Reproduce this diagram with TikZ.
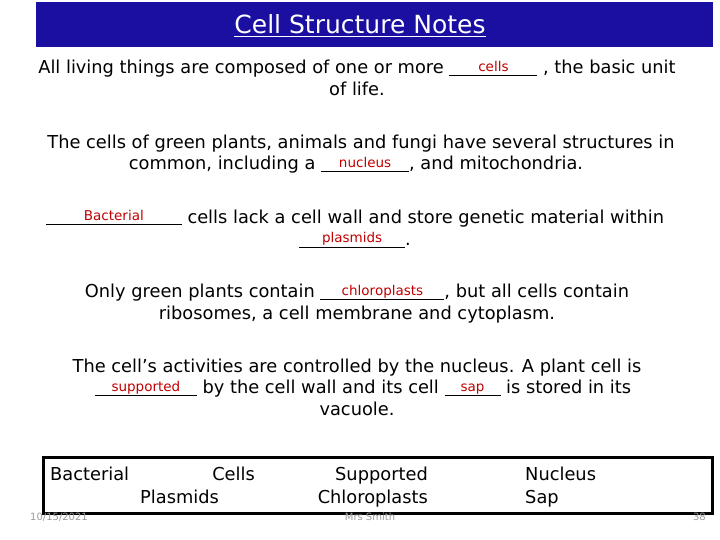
\documentclass[tikz,border=0pt]{standalone}
\usepackage{fontspec}
\setmainfont{DejaVu Sans}
\definecolor{ttl}{HTML}{1A0FA0}
\definecolor{ans}{HTML}{C00000}
\newcommand{\blk}[2]{\underline{\makebox[#1][c]{\raisebox{2pt}{\color{ans}\fontsize{13.5}{13.5}\selectfont #2}}}}
\begin{document}
\begin{tikzpicture}[x=1pt,y=-1pt,
  txt/.style={font=\fontsize{17.8}{17.8}\selectfont,inner sep=0pt,anchor=base},
  box/.style={font=\fontsize{17.8}{17.8}\selectfont,inner sep=0pt,anchor=base west},
  foot/.style={font=\fontsize{10}{10}\selectfont,text=gray!80,inner sep=0pt,anchor=base}]
\useasboundingbox (0,0) rectangle (720,540);
\fill[ttl] (36,2) rectangle (713,47);
\node[txt,text=white,font=\fontsize{25}{25}\selectfont] (title) at (360,34) {\underline{Cell Structure Notes}};
\node[txt] (l1) at (357,74) {All living things are composed of one or more \blk{88pt}{cells} , the basic unit};
\node[txt] (l2) at (357,96) {of life.};
\node[txt] (l3) at (361,149) {The cells of green plants, animals and fungi have several structures in};
\node[txt] (l4) at (356,170) {common, including a \blk{88pt}{nucleus}, and mitochondria.};
\node[txt] (l5) at (355,223) {\blk{136pt}{Bacterial} cells lack a cell wall and store genetic material within};
\node[txt] (l6) at (355,245) {\blk{106pt}{plasmids}.};
\node[txt] (l7) at (357,297) {Only green plants contain \blk{124pt}{chloroplasts}, but all cells contain};
\node[txt] (l8) at (357,319) {ribosomes, a cell membrane and cytoplasm.};
\node[txt] (l9) at (357,372) {The cell’s activities are controlled by the nucleus. A plant cell is};
\node[txt] (l10) at (363,393) {\blk{102pt}{supported} by the cell wall and its cell \blk{56pt}{sap} is stored in its};
\node[txt] (l11) at (357,415) {vacuole.};
\draw[line width=3pt] (43,457) rectangle (712,513);
\node[box] (b1) at (50,480) {Bacterial};
\node[box,anchor=base east] (b2) at (255,480) {Cells};
\node[box] (b3) at (140,503) {Plasmids};
\node[box,anchor=base east] (b4) at (428,480) {Supported};
\node[box,anchor=base east] (b5) at (428,503) {Chloroplasts};
\node[box] (b6) at (525,480) {Nucleus};
\node[box] (b7) at (525,503) {Sap};
\node[foot,anchor=base west] (f1) at (30,520) {10/15/2021};
\node[foot] (f2) at (370,520) {Mrs Smith};
\node[foot,anchor=base east] (f3) at (706,520) {38};
\end{tikzpicture}
\end{document}
